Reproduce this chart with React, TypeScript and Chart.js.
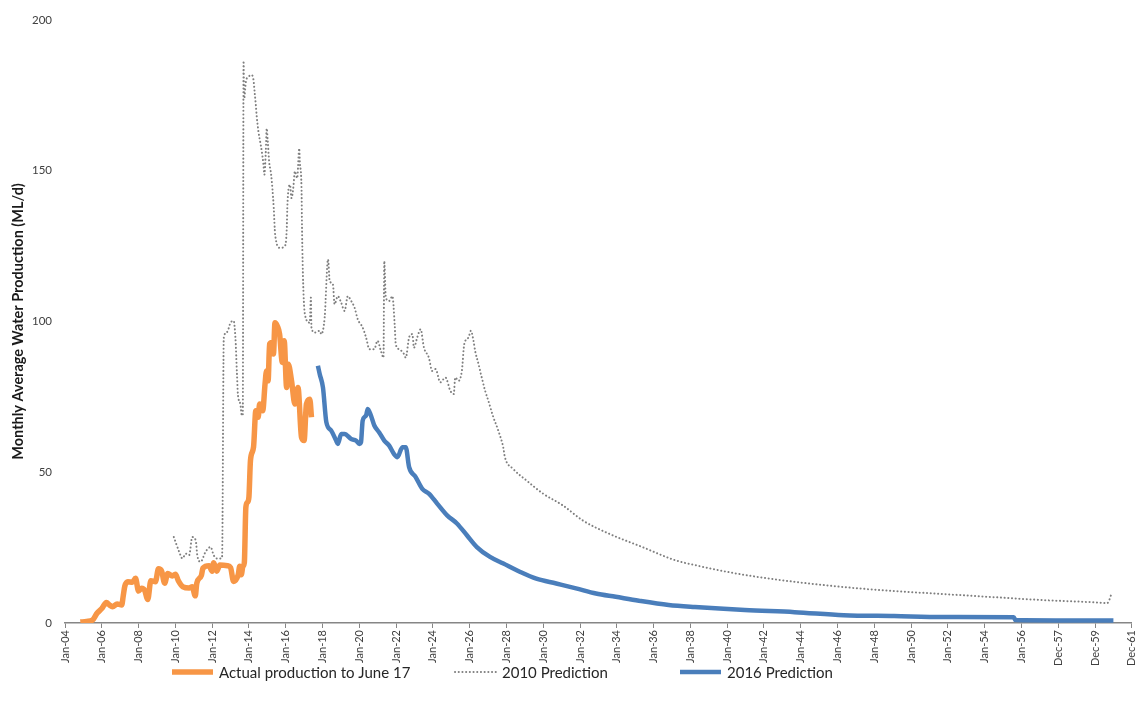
import React, { useEffect, useRef } from 'react';
import { Chart, registerables } from 'chart.js';

Chart.register(...registerables);

// x values are month indices counted from Jan-04 (0 = Jan 2004)
const xTickLabels = [
  'Jan-04', 'Jan-06', 'Jan-08', 'Jan-10', 'Jan-12', 'Jan-14', 'Jan-16', 'Jan-18', 'Jan-20', 'Jan-22',
  'Jan-24', 'Jan-26', 'Jan-28', 'Jan-30', 'Jan-32', 'Jan-34', 'Jan-36', 'Jan-38', 'Jan-40', 'Jan-42',
  'Jan-44', 'Jan-46', 'Jan-48', 'Jan-50', 'Jan-52', 'Jan-54', 'Jan-56', 'Dec-57', 'Dec-59', 'Dec-61',
];
const yTicks = [0, 50, 100, 150, 200];

const actualMonths = [
  10, 14, 18, 21, 24, 27, 29, 31, 34, 37, 38, 39, 41, 44, 46, 48, 50, 52, 54, 56,
  59, 61, 63, 65, 67, 70, 72, 74, 77, 81, 83, 85, 86, 89, 90, 94, 96, 97, 99, 101,
  106, 108, 110, 113, 114, 115, 116, 117, 118, 119, 120, 121, 123, 124.5, 126, 127, 129, 130.5, 131.5, 132.5,
  133.5, 135, 136, 137, 138.5, 140, 141.8, 143, 144.6, 145.7, 147.8, 150, 152, 154.3, 156, 157.5, 159.7, 160.8,
];
const actualValues = [
  0.3, 0.5, 1.0, 3.3, 4.8, 6.8, 6.0, 5.4, 6.3, 6.0, 9.0, 12.2, 13.7, 13.5, 14.8, 10.6, 11.5, 10.8, 7.8, 14.0,
  13.7, 18.0, 17.3, 13.2, 16.4, 15.6, 16.2, 14.0, 12.0, 11.6, 12.0, 9.0, 13.2, 15.8, 18.2, 19.0, 17.2, 20.0, 17.2, 19.2,
  19.0, 18.4, 13.8, 16.0, 18.8, 16.0, 18.6, 20.0, 38.4, 40.0, 41.8, 53.9, 58.3, 70.4, 68.2, 72.6, 70.4, 79.2, 83.6, 80.3,
  92.5, 93.0, 89.2, 99.6, 98.5, 95.8, 86.4, 93.6, 78.1, 85.8, 80.3, 72.6, 78.1, 61.6, 60.5, 72.6, 74.2, 68.2,
];

const pred2010Months = [
  71, 74.5, 76.6, 78.8, 81, 83, 85.3, 86.3, 88.5, 91.7, 95, 97, 99, 102, 102.5, 103.6, 105.7, 108, 110, 111.2,
  112.2, 112.8, 114.4, 115.4, 116, 116.5, 116.9, 118, 119.8, 121.9, 123, 123.7, 124.5, 125.1, 126.2, 127.3, 128.4, 129.5, 130.1, 131,
  131.6, 132.3, 133.2, 134.5, 135.3, 136.2, 137.1, 140.3, 143.5, 144.6, 145.2, 146.8, 147.8, 148.9, 150, 151.5, 152.8, 153.2, 154.3, 154.7,
  155.4, 156.5, 159.7, 160.4, 160.8, 162.9, 166.2, 167.2, 169.4, 171.6, 172.7, 174.8, 175.9, 178, 180.2, 182.4, 184.5, 186.7, 188.9, 191,
  194.2, 196.4, 198.6, 201.8, 203.9, 206.1, 207.8, 208.3, 209.3, 211.5, 213.6, 215.1, 215.8, 218, 221.2, 222.3, 224.5, 226.6, 227.7, 229.8,
  232, 234.2, 237.4, 239.5, 241.7, 244.9, 248.2, 251.4, 253.6, 254.6, 256.8, 258.9, 260.5, 263.3, 264.8, 266.5, 267.6, 269.8, 271.9, 274.1,
  276.2, 279.5, 282.7, 285.9, 287, 292.4, 301, 311.9, 324.8, 337.8, 355, 376.6, 398.2, 411, 437, 463, 489, 515, 541, 573,
  605, 638, 670, 680, 683,
];
const pred2010Values = [
  28.5, 23.6, 21.4, 23.0, 22.5, 28.5, 27.4, 22.5, 20.3, 23.6, 25.2, 22.5, 21.4, 21.4, 22.0, 94.6, 96.5, 99.6, 100.2, 94.6,
  82.5, 75.9, 72.6, 68.8, 68.8, 186.4, 174.0, 179.5, 181.2, 181.7, 180.0, 176.2, 171.8, 168.0, 163.0, 159.7, 156.4, 152.0, 148.7, 156.4,
  164.0, 159.7, 153.0, 148.7, 144.2, 137.6, 128.8, 124.4, 125.0, 129.9, 139.8, 145.3, 140.9, 144.2, 149.8, 147.5, 157.4, 153.0, 144.2, 128.9,
  112.4, 102.4, 99.6, 107.9, 98.0, 96.3, 96.9, 95.8, 101.3, 120.6, 113.4, 112.3, 105.7, 108.4, 106.2, 103.5, 108.4, 106.8, 104.6, 100.7,
  98.0, 94.7, 90.8, 90.8, 93.6, 90.2, 88.0, 120.0, 107.9, 106.8, 108.4, 99.0, 92.5, 90.8, 89.2, 88.0, 94.7, 95.8, 91.3, 94.7,
  97.4, 91.3, 88.0, 83.6, 84.2, 79.8, 81.4, 77.0, 75.9, 81.4, 80.3, 83.6, 92.5, 94.7, 96.9, 93.6, 90.2, 85.8, 81.4, 77.0,
  73.7, 68.2, 63.8, 58.3, 55.0, 51.1, 47.3, 42.9, 39.0, 34.0, 29.6, 25.2, 20.8, 19.2, 16.5, 14.5, 12.9, 11.6, 10.6, 9.6,
  8.6, 7.6, 6.9, 6.6, 10.0,
];

const pred2016Months = [
  165, 166.2, 168.3, 170.5, 173.7, 176.9, 178, 180.2, 182.4, 186.7, 189.9, 192.1, 193.1, 194.2, 196.4, 197.5, 199.6, 201.8, 205, 208.3,
  211.5, 214.7, 216.9, 220.1, 222.3, 224.5, 228.8, 233.1, 237.4, 242.8, 249.3, 255.7, 262.2, 268.7, 277.3, 286, 296.7, 307.5, 320.5, 333.4,
  346.4, 359.3, 374.4, 393.8, 411, 443.5, 476, 508, 541, 573, 619, 620, 684,
];
const pred2016Values = [
  85.3, 82.5, 78.1, 66.6, 63.8, 60.5, 59.4, 62.7, 62.7, 61.0, 60.5, 59.4, 59.9, 67.1, 68.8, 71.0, 68.8, 65.5, 63.2, 60.5,
  58.8, 56.0, 55.0, 58.3, 58.3, 51.7, 48.4, 44.5, 42.9, 39.6, 35.7, 33.0, 29.1, 25.2, 21.9, 19.7, 17.0, 14.7, 13.1, 11.5,
  9.8, 8.7, 7.4, 6.0, 5.3, 4.3, 3.6, 2.6, 2.3, 2.0, 1.9, 1.0, 0.8,
];

const FONT = 'Lato, "Open Sans", "DejaVu Sans", sans-serif';

const seriesStyles = [
  { label: 'Actual production to June 17', color: '#F79646', width: 5.5, dash: [] as number[], legendX: 172 },
  { label: '2010 Prediction', color: '#7F7F7F', width: 2, dash: [0.1, 3.6], legendX: 455 },
  { label: '2016 Prediction', color: '#4A7EBB', width: 4.5, dash: [] as number[], legendX: 680 },
];

const toPoints = (xs: number[], ys: number[]) => xs.map((x, i) => ({ x, y: ys[i] }));

const legendPlugin = {
  id: 'customLegend',
  afterDraw(chart: any) {
    const ctx = chart.ctx as CanvasRenderingContext2D;
    const y = 672;
    ctx.save();
    seriesStyles.forEach((s) => {
      ctx.beginPath();
      ctx.strokeStyle = s.color;
      ctx.lineWidth = s.width;
      ctx.lineCap = s.dash.length ? 'round' : 'butt';
      ctx.setLineDash(s.dash);
      ctx.moveTo(s.legendX, y);
      ctx.lineTo(s.legendX + 41, y);
      ctx.stroke();
      ctx.setLineDash([]);
      ctx.fillStyle = '#262626';
      ctx.font = `15px ${FONT}`;
      ctx.textBaseline = 'middle';
      ctx.textAlign = 'left';
      ctx.fillText(s.label, s.legendX + 47, y + 1);
    });
    ctx.restore();
  },
};

export default function App() {
  const canvasRef = useRef<HTMLCanvasElement | null>(null);

  useEffect(() => {
    if (!canvasRef.current) return;
    const seriesData = [
      toPoints(actualMonths, actualValues),
      toPoints(pred2010Months, pred2010Values),
      toPoints(pred2016Months, pred2016Values),
    ];
    const chart = new Chart(canvasRef.current, {
      type: 'line',
      data: {
        datasets: seriesStyles.map((s, i) => ({
          label: s.label,
          data: seriesData[i],
          borderColor: s.color,
          backgroundColor: s.color,
          borderWidth: s.width,
          borderDash: s.dash,
          borderCapStyle: s.dash.length ? 'round' : 'butt',
          borderJoinStyle: 'round',
          pointRadius: 0,
          pointHoverRadius: 0,
          fill: false,
          cubicInterpolationMode: 'monotone',
        })) as any,
      },
      options: {
        responsive: false,
        animation: false,
        layout: { padding: { top: 18, right: 7, bottom: 40, left: 0 } },
        plugins: {
          legend: { display: false },
          tooltip: { enabled: false },
        },
        scales: {
          x: {
            type: 'linear',
            min: 0,
            max: (xTickLabels.length - 1) * 24,
            offset: false,
            afterFit: (scale: any) => {
              scale.height = 46;
            },
            grid: {
              display: true,
              drawOnChartArea: false,
              drawTicks: true,
              tickLength: 5,
              color: '#868686',
              lineWidth: 1,
            },
            border: { display: true, color: '#868686', width: 1.5 },
            ticks: {
              stepSize: 24,
              autoSkip: false,
              maxRotation: 90,
              minRotation: 90,
              padding: 2,
              color: '#404040',
              font: { family: FONT, size: 11 },
              callback: (value: any) => xTickLabels[Math.round(Number(value) / 24)] ?? '',
            },
          },
          y: {
            type: 'linear',
            min: yTicks[0],
            max: yTicks[yTicks.length - 1],
            afterFit: (scale: any) => {
              scale.width = 65;
            },
            grid: { display: false, drawTicks: false },
            border: { display: false },
            ticks: {
              stepSize: 50,
              padding: 13,
              color: '#404040',
              font: { family: FONT, size: 11.5 },
            },
            title: {
              display: true,
              text: 'Monthly Average Water Production (ML/d)',
              color: '#1a1a1a',
              font: { family: FONT, size: 14.5, weight: 'bold' },
              padding: { top: 10, bottom: 0 },
            },
          },
        },
      },
      plugins: [legendPlugin],
    });
    return () => chart.destroy();
  }, []);

  return (
    <div style={{ position: 'absolute', left: 0, top: 0, width: 1147, height: 709, background: '#fff' }}>
      <canvas ref={canvasRef} width={1147} height={709} style={{ display: 'block' }} />
    </div>
  );
}
